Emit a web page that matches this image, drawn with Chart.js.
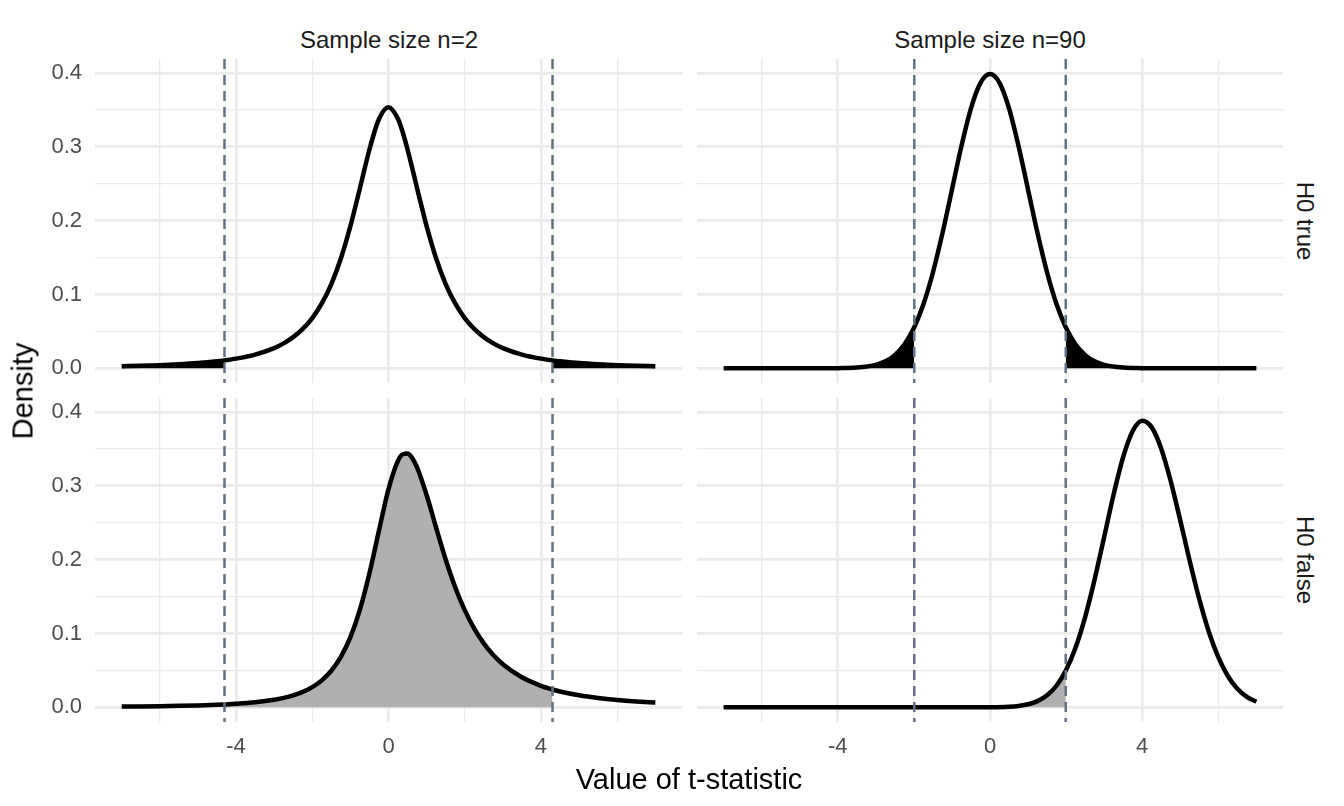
<!DOCTYPE html>
<html>
<head>
<meta charset="utf-8">
<script src="https://cdn.jsdelivr.net/npm/chart.js@4.4.1/dist/chart.umd.min.js"></script>
<style>
  body { margin: 0; background: #fff; width: 1344px; height: 806px; overflow: hidden; position: relative;
         font-family: "Liberation Sans", Arial, sans-serif; }
  canvas { position: absolute; }
  .lab { position: absolute; white-space: nowrap; line-height: 1; transform: translate(-50%, -50%); }
  .strip { font-size: 24px; color: #1a1a1a; }
  .title { font-size: 29px; color: #000; }
</style>
</head>
<body>
<canvas id="tl" width="662" height="324" style="left:20px;top:59px"></canvas>
<canvas id="tr" width="586" height="324" style="left:697px;top:59px"></canvas>
<canvas id="bl" width="662" height="370" style="left:20px;top:398px"></canvas>
<canvas id="br" width="586" height="370" style="left:697px;top:398px"></canvas>

<div class="lab strip" style="left:389px;top:40px">Sample size n=2</div>
<div class="lab strip" style="left:990px;top:40px">Sample size n=90</div>
<div class="lab strip" style="left:1305px;top:221px;transform:translate(-50%,-50%) rotate(90deg)">H0 true</div>
<div class="lab strip" style="left:1305px;top:560px;transform:translate(-50%,-50%) rotate(90deg)">H0 false</div>
<div class="lab title" style="left:23px;top:391px;transform:translate(-50%,-50%) rotate(-90deg)">Density</div>
<div class="lab title" style="left:689px;top:779px">Value of t-statistic</div>

<script>
// t values where the densities were read (n=2 panels)
const tN2 = [-7, -6.5, -6, -5.5, -5, -4.5, -4.303, -4, -3.5, -3, -2.75, -2.5, -2.25, -2, -1.75, -1.5, -1.25, -1,
  -0.75, -0.5, -0.25, 0, 0.25, 0.375, 0.5, 0.625, 0.75, 1, 1.25, 1.5, 1.75, 2, 2.25, 2.5, 2.75, 3, 3.5, 4, 4.303,
  4.5, 5, 5.5, 6, 6.5, 7];
// n=2, H0 true
const densN2True = [0.00275, 0.0034, 0.00427, 0.00546, 0.00713, 0.00953, 0.01076, 0.0131, 0.0186, 0.0274, 0.0338,
  0.0422, 0.0533, 0.068, 0.0878, 0.1141, 0.1487, 0.1925, 0.2438, 0.2963, 0.3376, 0.3536, 0.3376, 0.3193, 0.2963,
  0.2705, 0.2438, 0.1925, 0.1487, 0.1141, 0.0878, 0.068, 0.0533, 0.0422, 0.0338, 0.0274, 0.0186, 0.0131, 0.01076,
  0.00953, 0.00713, 0.00546, 0.00427, 0.0034, 0.00275];
// n=2, H0 false
const densN2False = [0.00097, 0.0012, 0.00151, 0.00194, 0.00254, 0.00342, 0.00388, 0.00475, 0.00683, 0.01026,
  0.01281, 0.01624, 0.02091, 0.02738, 0.0365, 0.04948, 0.06819, 0.09494, 0.1323, 0.18147, 0.23928, 0.29531, 0.33397,
  0.34273, 0.34371, 0.33736, 0.32484, 0.2874, 0.24311, 0.20014, 0.16265, 0.13153, 0.10649, 0.08659, 0.07087, 0.05843,
  0.04065, 0.02915, 0.02413, 0.02147, 0.01622, 0.01251, 0.00983, 0.00786, 0.00638];

// n=90, H0 true
const tN90True = [-7, -6, -5, -4.5, -4, -3.5, -3, -2.75, -2.5, -2.25, -1.99, -1.75, -1.5, -1.25, -1, -0.75, -0.5,
  -0.25, 0, 0.25, 0.5, 0.75, 1, 1.25, 1.5, 1.75, 1.99, 2.25, 2.5, 2.75, 3, 3.5, 4, 4.5, 5, 6, 7];
const densN90True = [0, 0, 0.00001, 0.00003, 0.0002, 0.001, 0.0047, 0.0094, 0.0179, 0.0322, 0.0556, 0.0866, 0.1297,
  0.1827, 0.2419, 0.301, 0.352, 0.3865, 0.3984, 0.3865, 0.352, 0.301, 0.2419, 0.1827, 0.1297, 0.0866, 0.0556, 0.0322,
  0.0179, 0.0094, 0.0047, 0.001, 0.0002, 0.00003, 0.00001, 0, 0];

// n=90, H0 false
const tN90False = [-7, -6, -5, -4, -3, -2, -1, -0.5, 0, 0.5, 0.75, 1, 1.25, 1.5, 1.75, 1.99, 2.25, 2.5, 2.75, 3,
  3.25, 3.5, 3.75, 4, 4.25, 4.5, 4.75, 5, 5.25, 5.5, 5.75, 6, 6.25, 6.5, 6.75, 7];
const densN90False = [0, 0, 0, 0, 0, 0, 0, 0.00001, 0.0001, 0.0008, 0.0019, 0.0041, 0.0084, 0.0162, 0.0295, 0.0494,
  0.081, 0.1222, 0.1732, 0.2306, 0.2885, 0.3389, 0.3741, 0.3879, 0.379, 0.3502, 0.3061, 0.2531, 0.1979, 0.1464,
  0.1024, 0.0678, 0.0424, 0.0251, 0.0141, 0.0075];

// critical t values (two-sided, alpha = 0.05)
const critN2 = 4.303;
const critN90 = 1.99;

// axis ticks
const xMajor = [-4, 0, 4];
const xMinor = [-6, -2, 2, 6];
const yMajor = [0, 0.1, 0.2, 0.3, 0.4];
const yMinor = [0.05, 0.15, 0.25, 0.35];
const xRange = [-7.7, 7.7];
const yRange = [-0.0199, 0.4188];

const DASH = "#627185";
const FONT = { family: "Liberation Sans", size: 22 };

function punkte(xs, ys, pilih) {
  return xs.map((x, i) => ({ x: x, y: ys[i] })).filter(p => pilih(p.x));
}

function garisKritis(nilai) {
  return {
    data: [{ x: nilai, y: yRange[1] }, { x: nilai, y: yRange[0] }],
    borderColor: DASH, borderWidth: 2.5, borderDash: [10, 6], pointRadius: 0, order: 0
  };
}

function isiArea(data, warna) {
  return {
    data: data, borderColor: "rgba(0,0,0,0)", borderWidth: 1, backgroundColor: warna,
    fill: "origin", pointRadius: 0, cubicInterpolationMode: "monotone", order: 2
  };
}

function buatPanel(id, xs, ys, crit, isi, kiri, bawah) {
  const datasets = [
    garisKritis(-crit),
    garisKritis(crit),
    { data: punkte(xs, ys, () => true), borderColor: "#000", borderWidth: 4.5, pointRadius: 0,
      cubicInterpolationMode: "monotone", borderJoinStyle: "round", order: 1 }
  ];
  isi.forEach(bagian => datasets.push(isiArea(punkte(xs, ys, bagian.pilih), bagian.warna)));

  new Chart(document.getElementById(id), {
    type: "line",
    data: { datasets: datasets },
    options: {
      responsive: false, animation: false, events: [],
      layout: { padding: 0 },
      plugins: { legend: { display: false }, tooltip: { enabled: false } },
      scales: {
        x: {
          type: "linear", min: xRange[0], max: xRange[1],
          border: { display: false },
          grid: { color: "#EBEBEB", drawTicks: false,
                  lineWidth: c => xMajor.includes(c.tick.value) ? 2.7 : 1.3 },
          afterBuildTicks: s => { s.ticks = xMinor.concat(xMajor).sort((a, b) => a - b).map(v => ({ value: v })); },
          ticks: { display: bawah, font: FONT, color: "#4D4D4D", padding: 12, autoSkip: false, maxRotation: 0,
                   callback: v => xMajor.includes(v) ? String(v) : "" },
          afterFit: s => { s.height = bawah ? 46 : 0; s.paddingLeft = 0; s.paddingRight = 0; }
        },
        y: {
          type: "linear", min: yRange[0], max: yRange[1],
          border: { display: false },
          grid: { color: "#EBEBEB", drawTicks: false,
                  lineWidth: c => yMajor.includes(c.tick.value) ? 2.7 : 1.3 },
          afterBuildTicks: s => { s.ticks = yMajor.concat(yMinor).sort((a, b) => a - b).map(v => ({ value: v })); },
          ticks: { display: kiri, font: FONT, color: "#4D4D4D", padding: 13, autoSkip: false,
                   callback: v => yMajor.includes(v) ? v.toFixed(1) : "" },
          afterFit: s => { s.width = kiri ? 75 : 0; s.paddingTop = 0; s.paddingBottom = 0; }
        }
      }
    }
  });
}

buatPanel("tl", tN2, densN2True, critN2, [
  { pilih: x => x <= -critN2, warna: "#000" },
  { pilih: x => x >= critN2, warna: "#000" }
], true, false);

buatPanel("tr", tN90True, densN90True, critN90, [
  { pilih: x => x <= -critN90, warna: "#000" },
  { pilih: x => x >= critN90, warna: "#000" }
], false, false);

buatPanel("bl", tN2, densN2False, critN2, [
  { pilih: x => x >= -critN2 && x <= critN2, warna: "#B0B0B0" }
], true, true);

buatPanel("br", tN90False, densN90False, critN90, [
  { pilih: x => x >= -critN90 && x <= critN90, warna: "#B0B0B0" }
], false, true);
</script>
</body>
</html>
